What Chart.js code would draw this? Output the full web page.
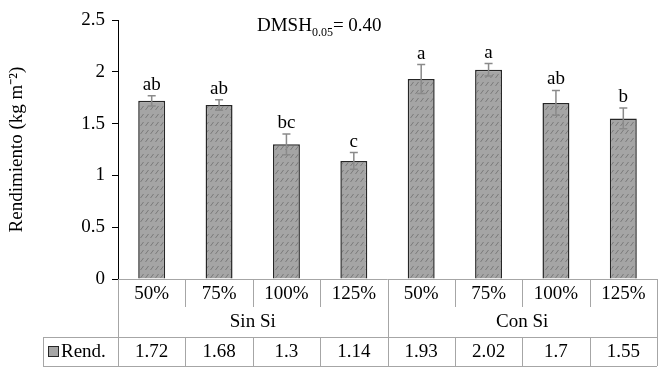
<!DOCTYPE html>
<html>
<head>
<meta charset="utf-8">
<script src="https://cdn.jsdelivr.net/npm/chart.js@4.4.1/dist/chart.umd.min.js"></script>
<style>
  html, body { margin: 0; padding: 0; background: #fff; }
</style>
</head>
<body>
<canvas id="chart" width="660" height="369"></canvas>
<script>
const categories = ["50%", "75%", "100%", "125%", "50%", "75%", "100%", "125%"];
const groups = ["Sin Si", "Con Si"];
const seriesName = "Rend.";
const rendValues = [1.72, 1.68, 1.3, 1.14, 1.93, 2.02, 1.7, 1.55];
const errorValues = [0.05, 0.05, 0.1, 0.08, 0.14, 0.06, 0.12, 0.1];
const letters = ["ab", "ab", "bc", "c", "a", "a", "ab", "b"];
const yTicks = [0, 0.5, 1, 1.5, 2, 2.5];
const yTickLabels = ["0", "0.5", "1", "1.5", "2", "2.5"];

const FONT = "Liberation Serif, Times New Roman, serif";
const SIZE = 19;
const lineGray = "#a6a6a6";

// hatched gray fill for the bars
function makeHatch() {
  const c = document.createElement("canvas");
  c.width = 5;
  c.height = 8;
  const g = c.getContext("2d");
  g.fillStyle = "#a5a5a5";
  g.fillRect(0, 0, 5, 8);
  g.strokeStyle = "#7a7a7a";
  g.lineWidth = 1;
  g.beginPath();
  g.moveTo(0.5, 6);
  g.lineTo(3.5, 2);
  g.stroke();
  return g.createPattern(c, "repeat");
}

const extras = {
  id: "extras",
  afterDatasetsDraw(chart) {
    const ctx = chart.ctx;
    const y = chart.scales.y;
    const meta = chart.getDatasetMeta(0);
    ctx.save();
    // error bars + letters
    meta.data.forEach((bar, i) => {
      const top = y.getPixelForValue(rendValues[i] + errorValues[i]);
      const bot = y.getPixelForValue(rendValues[i] - errorValues[i]);
      ctx.strokeStyle = "#8a8a8a";
      ctx.lineWidth = 1.5;
      ctx.beginPath();
      ctx.moveTo(bar.x, top);
      ctx.lineTo(bar.x, bot);
      ctx.moveTo(bar.x - 4, top);
      ctx.lineTo(bar.x + 4, top);
      ctx.moveTo(bar.x - 4, bot);
      ctx.lineTo(bar.x + 4, bot);
      ctx.stroke();
      ctx.fillStyle = "#000";
      ctx.font = SIZE + "px " + FONT;
      ctx.textAlign = "center";
      ctx.textBaseline = "alphabetic";
      ctx.fillText(letters[i], bar.x, top - 6);
    });
    ctx.restore();
  },
  afterDraw(chart) {
    const ctx = chart.ctx;
    const area = chart.chartArea;
    const n = categories.length;
    const w = (area.right - area.left) / n;
    const x0 = area.left;
    const top = area.bottom;
    const dataTop = 337;
    const dataBot = 366;
    const legendLeft = 43;
    ctx.save();

    // DMSH annotation
    ctx.fillStyle = "#000";
    ctx.textBaseline = "alphabetic";
    ctx.textAlign = "left";
    let tx = 257;
    ctx.font = SIZE + "px " + FONT;
    ctx.fillText("DMSH", tx, 31);
    tx += ctx.measureText("DMSH").width;
    ctx.font = "12px " + FONT;
    ctx.fillText("0.05", tx, 36);
    tx += ctx.measureText("0.05").width;
    ctx.font = SIZE + "px " + FONT;
    ctx.fillText("= 0.40", tx, 31);

    // table lines
    ctx.strokeStyle = lineGray;
    ctx.lineWidth = 1;
    const line = (ax, ay, bx, by) => {
      ctx.beginPath();
      ctx.moveTo(ax, ay);
      ctx.lineTo(bx, by);
      ctx.stroke();
    };
    const px = (v) => Math.round(v) + 0.5;
    line(x0, px(top), area.right, px(top));
    line(legendLeft, px(dataTop), area.right, px(dataTop));
    line(legendLeft, px(dataBot), area.right, px(dataBot));
    line(px(legendLeft), dataTop, px(legendLeft), dataBot);
    line(px(x0), top, px(x0), dataBot);
    line(px(area.right), top, px(area.right), dataBot);
    for (let i = 1; i < n; i++) {
      const sx = px(x0 + i * w);
      if (i === n / 2) {
        line(sx, top, sx, dataBot);
      } else {
        line(sx, top, sx, top + 28);
        line(sx, dataTop, sx, dataBot);
      }
    }

    // table text
    ctx.fillStyle = "#000";
    ctx.font = SIZE + "px " + FONT;
    ctx.textAlign = "center";
    ctx.textBaseline = "middle";
    categories.forEach((c, i) => {
      ctx.fillText(c, x0 + (i + 0.5) * w, top + 15);
    });
    groups.forEach((g, gi) => {
      const span = n / groups.length;
      ctx.fillText(g, x0 + (gi * span + span / 2) * w, top + 43);
    });
    rendValues.forEach((v, i) => {
      ctx.fillText(String(v), x0 + (i + 0.5) * w, dataTop + 15);
    });

    // legend key
    ctx.fillStyle = "#a5a5a5";
    ctx.fillRect(48, 346, 10, 10);
    ctx.strokeStyle = "#262626";
    ctx.lineWidth = 1;
    ctx.strokeRect(48.5, 346.5, 10, 10);
    ctx.fillStyle = "#000";
    ctx.textAlign = "left";
    ctx.fillText(seriesName, 61, dataTop + 15);
    ctx.restore();
  }
};

const ctx = document.getElementById("chart").getContext("2d");
new Chart(ctx, {
  type: "bar",
  data: {
    labels: categories,
    datasets: [
      {
        label: seriesName,
        data: rendValues,
        backgroundColor: makeHatch(),
        borderColor: "#262626",
        borderWidth: 1.5,
        barPercentage: 0.4,
        categoryPercentage: 1,
      },
    ],
  },
  options: {
    responsive: false,
    animation: false,
    devicePixelRatio: 1,
    layout: { padding: { top: 20, bottom: 90, left: 0, right: 3 } },
    plugins: {
      legend: { display: false },
      tooltip: { enabled: false },
    },
    scales: {
      x: { display: false },
      y: {
        min: 0,
        max: 2.5,
        afterFit: (scale) => { scale.width = 118; },
        afterBuildTicks: (scale) => {
          scale.ticks = yTicks.map((v) => ({ value: v }));
        },
        ticks: {
          color: "#000",
          padding: 7,
          font: { family: FONT, size: SIZE },
          callback: (value) => yTickLabels[yTicks.indexOf(value)],
        },
        grid: {
          drawOnChartArea: false,
          drawTicks: true,
          tickLength: 6,
          color: "#000",
        },
        border: { display: true, color: "#000", width: 1 },
        title: {
          display: true,
          text: "Rendimiento (kg m⁻²)",
          color: "#000",
          font: { family: FONT, size: SIZE },
          padding: { top: 6, bottom: 0 },
        },
      },
    },
  },
  plugins: [extras],
});
</script>
</body>
</html>
